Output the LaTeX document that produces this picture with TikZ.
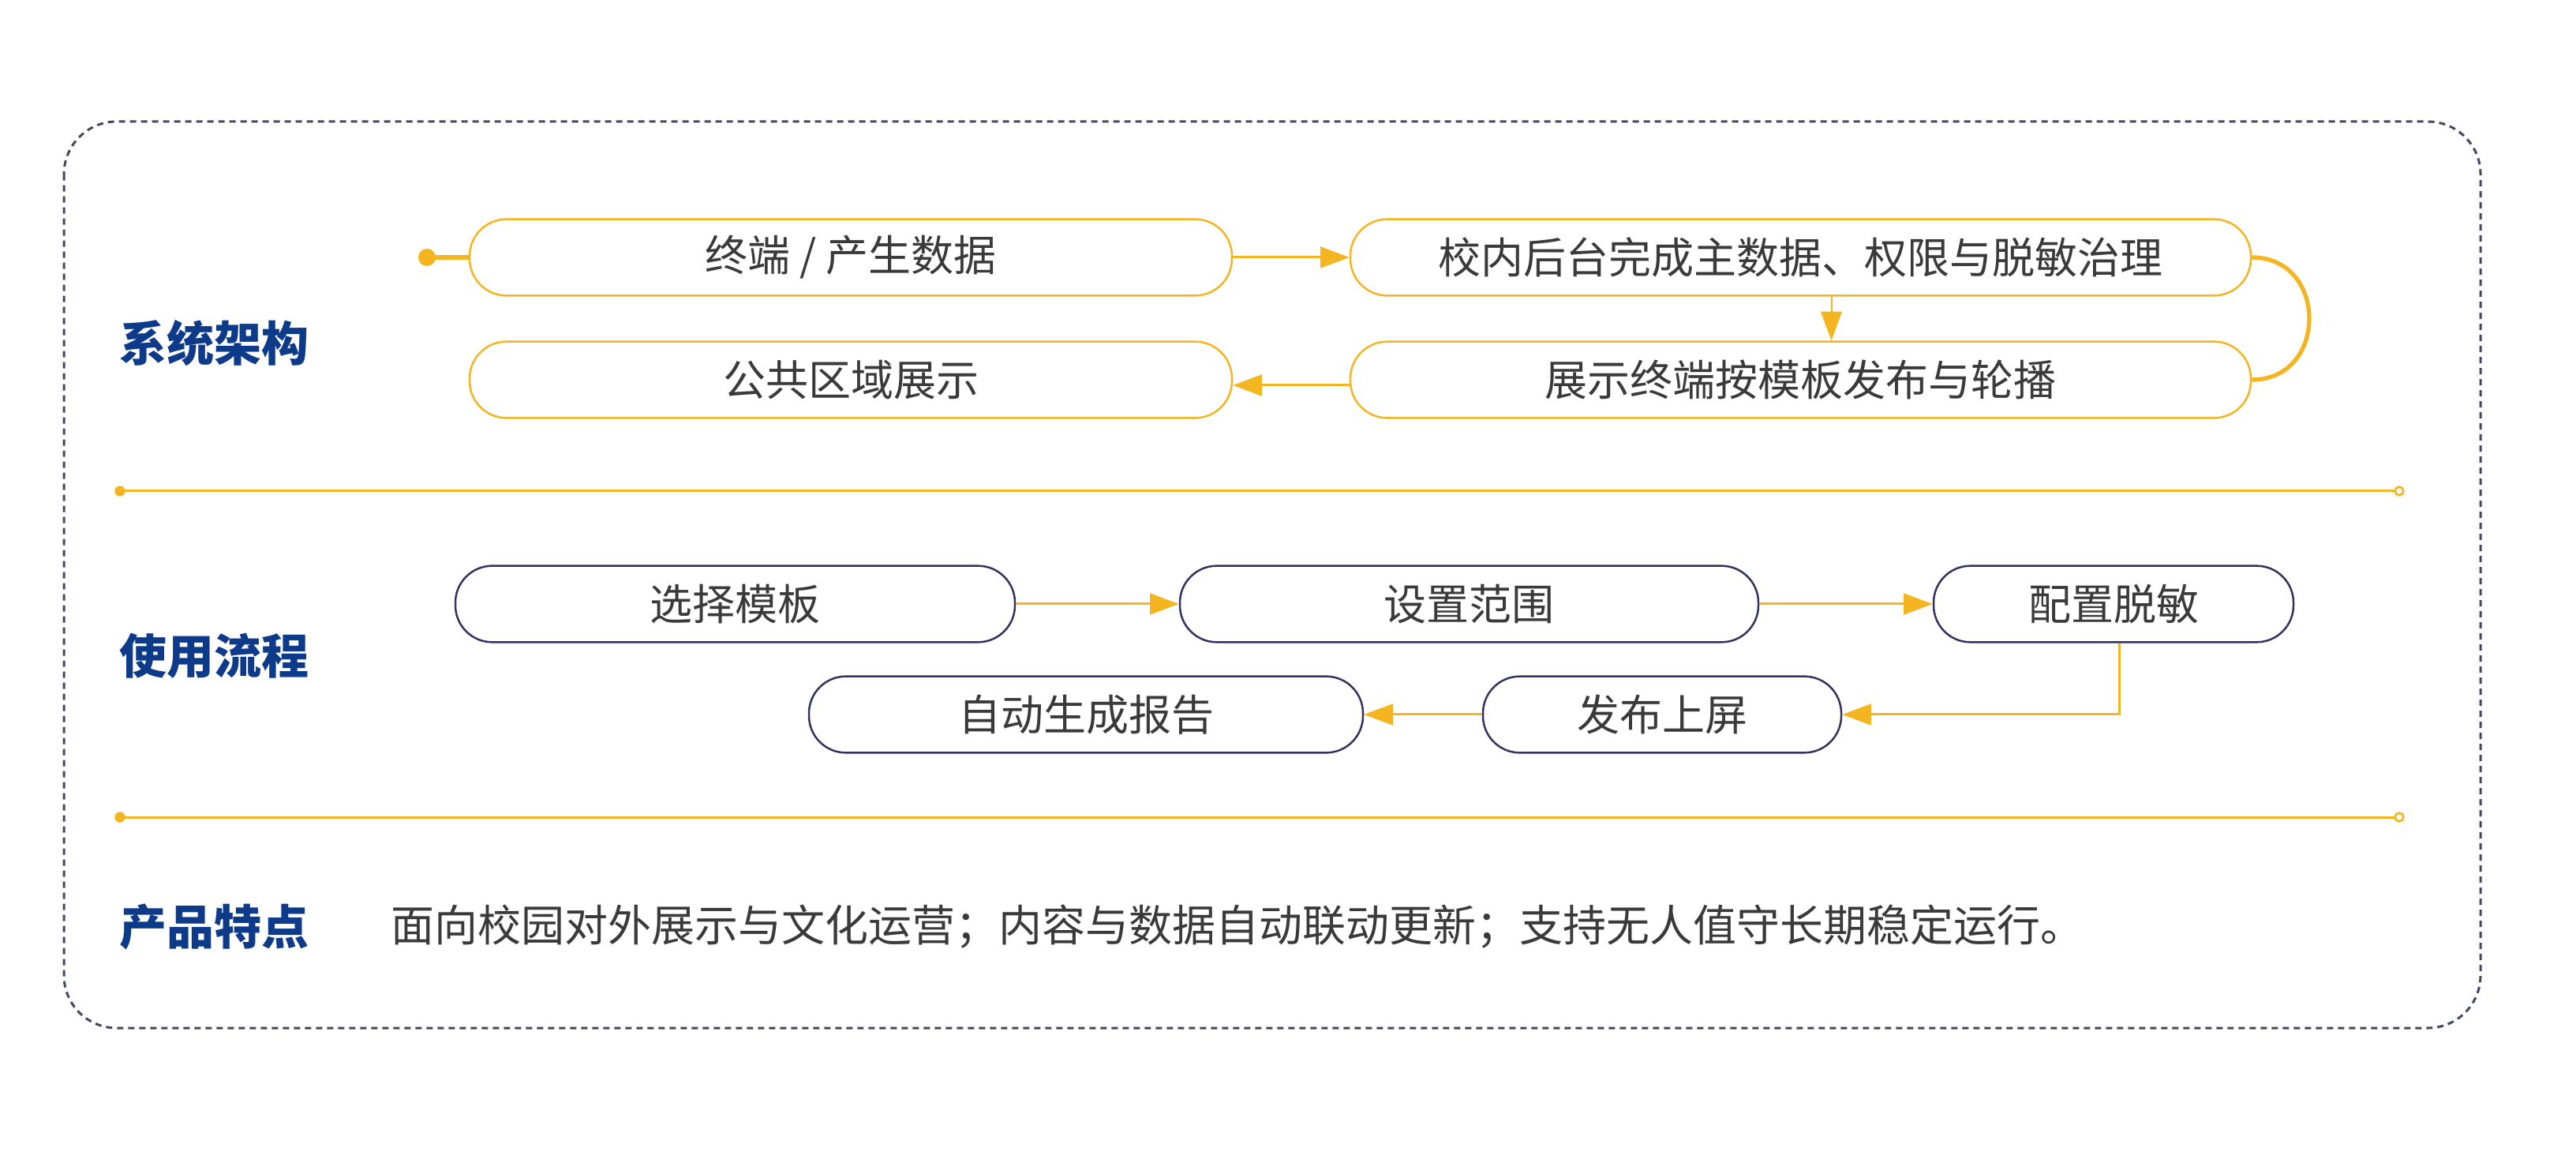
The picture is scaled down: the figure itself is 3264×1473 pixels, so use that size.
\documentclass[tikz,border=0pt]{standalone}
\usepackage{fontspec}
\setmainfont{Noto Sans CJK SC}
\usetikzlibrary{arrows.meta,calc}
\definecolor{gold}{HTML}{F4B521}
\definecolor{navy}{HTML}{34335F}
\definecolor{labelblue}{HTML}{0E3A8A}
\definecolor{txt}{HTML}{3A3A3A}
\definecolor{bordercol}{HTML}{44475F}
\begin{document}
\begin{tikzpicture}[x=0.3pt,y=-0.3pt,
  pill/.style={rounded corners=14pt, minimum height=29pt, inner sep=0pt,
    text=txt, font=\fontsize{16.2}{19}\selectfont, fill=white, line width=0.75pt},
  pillY/.style={pill, draw=gold},
  pillN/.style={pill, draw=navy},
  lab/.style={text=labelblue, font=\bfseries\fontsize{18}{21}\selectfont, inner sep=0pt},
  conn/.style={draw=gold, line width=0.9pt, -{Triangle[length=11pt,width=8pt]}},
  thinconn/.style={draw=gold, line width=0.6pt, -{Triangle[length=11pt,width=8pt]}}
]
\useasboundingbox (0,0) rectangle (3264,1473);
\fill[white] (0,0) rectangle (3264,1473);

% outer dashed frame
\draw[bordercol, line width=0.9pt, dash pattern=on 2.4pt off 1.8pt, rounded corners=20pt]
  (81,154) rectangle (3143,1302);

% section labels
\node[lab] (l1) at (271,435) {系统架构};
\node[lab] (l2) at (271,831) {使用流程};
\node[lab] (l3) at (271,1174) {产品特点};

% system architecture
\node[pillY, minimum width=289.8pt] (A) at (1078,326) {终端 / 产生数据};
\node[pillY, minimum width=342.3pt] (B) at (2281.5,326) {校内后台完成主数据、权限与脱敏治理};
\node[pillY, minimum width=342.3pt] (C) at (2281.5,481) {展示终端按模板发布与轮播};
\node[pillY, minimum width=289.8pt] (D) at (1078,481) {公共区域展示};

\coordinate (start) at (541,326);
\draw[gold, line width=1.6pt] (start) -- (A.west);
\fill[gold] (start) circle[radius=3.3pt];
\draw[conn] (A.east) -- (B.west);
\draw[thinconn] ($(B.south)+(39,0)$) -- ($(C.north)+(39,0)$);
\draw[conn] ($(C.west)+(0,7)$) -- ($(D.east)+(0,7)$);
\draw[gold, line width=1.6pt] (B.east) .. controls +(97,0) and +(97,0) .. (C.east);

% separators
\coordinate (s1l) at (152,622); \coordinate (s1r) at (3040,622);
\coordinate (s2l) at (152,1035); \coordinate (s2r) at (3040,1035);
\draw[gold, line width=0.9pt] (s1l) -- (s1r);
\draw[gold, line width=0.9pt] (s2l) -- (s2r);
\fill[gold] (s1l) circle[radius=2pt];
\fill[gold] (s2l) circle[radius=2pt];
\draw[gold, fill=white, line width=0.8pt] (s1r) circle[radius=1.6pt];
\draw[gold, fill=white, line width=0.8pt] (s2r) circle[radius=1.6pt];

% usage flow
\node[pillN, minimum width=212.7pt] (S1) at (931.5,765) {选择模板};
\node[pillN, minimum width=219.9pt] (S2) at (1861.5,765) {设置范围};
\node[pillN, minimum width=136.8pt] (S3) at (2678,765) {配置脱敏};
\node[pillN, minimum width=136.2pt] (S4) at (2106,905) {发布上屏};
\node[pillN, minimum width=210.6pt] (S5) at (1376,905) {自动生成报告};

\draw[conn] (S1.east) -- (S2.west);
\draw[conn] (S2.east) -- (S3.west);
\draw[conn] ($(S3.south)+(7,0)$) |- (S4.east);
\draw[conn] (S4.west) -- (S5.east);

% features
\node[anchor=west, inner sep=0pt, text=txt, font=\fontsize{16.5}{19}\selectfont] (feat) at (495,1174)
  {面向校园对外展示与文化运营；内容与数据自动联动更新；支持无人值守长期稳定运行。};
\end{tikzpicture}
\end{document}
